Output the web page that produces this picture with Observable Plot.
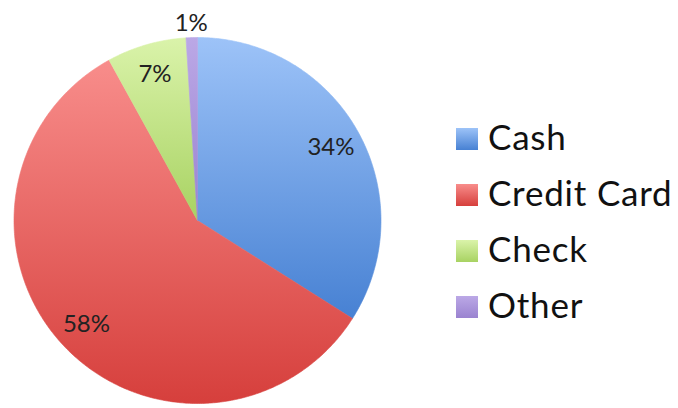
<!DOCTYPE html>
<html>
<head>
<meta charset="utf-8">
<script src="https://cdn.jsdelivr.net/npm/d3@7"></script>
<script src="https://cdn.jsdelivr.net/npm/@observablehq/plot@0.6"></script>
<style>
  body { margin: 0; background: #fff; }
  #chart { position: relative; width: 678px; height: 408px; font-family: Lato, "Open Sans", sans-serif; }
  #legend { position: absolute; left: 456px; top: 0; }
  .row { position: absolute; left: 0; display: flex; align-items: baseline; white-space: nowrap; }
  .sw { width: 22px; height: 22px; margin-right: 10px; }
  .lab { font-size: 35px; line-height: 1; letter-spacing: 0.8px; color: #111; }
</style>
</head>
<body>
<div id="chart"></div>
<script>
// Payment methods and their share of transactions (%)
const methods = ["Cash", "Credit Card", "Check", "Other"];
const shares = [34, 58, 7, 1];
const shareLabels = ["34%", "58%", "7%", "1%"];
// Two-tone gradient per slice (top, bottom)
const colorTop = ["#9dc3f8", "#f88d8b", "#daf3aa", "#bba8e6"];
const colorBottom = ["#4781d3", "#d63f3c", "#a8d262", "#9a83d0"];

const chart = document.getElementById("chart");

// Gradient definitions referenced by the slices
const defsSvg = d3.select(chart).append("svg")
  .attr("width", 0).attr("height", 0)
  .style("position", "absolute");
const defs = defsSvg.append("defs");
methods.forEach((m, i) => {
  const g = defs.append("linearGradient")
    .attr("id", "grad" + i)
    .attr("x1", 0).attr("y1", 0).attr("x2", 0).attr("y2", 1);
  g.append("stop").attr("offset", "0%").attr("stop-color", colorTop[i]);
  g.append("stop").attr("offset", "100%").attr("stop-color", colorBottom[i]);
});

// Slice angles, clockwise from 12 o'clock
const arcs = d3.pie().sort(null).value(d => d)(shares);

// Outline of each slice in unit-circle coordinates
const slicePoints = [];
arcs.forEach((a, i) => {
  slicePoints.push({method: methods[i], x: 0, y: 0});
  const steps = Math.max(2, Math.ceil((a.endAngle - a.startAngle) / 0.01));
  for (let k = 0; k <= steps; k++) {
    const t = a.startAngle + (a.endAngle - a.startAngle) * k / steps;
    slicePoints.push({method: methods[i], x: Math.sin(t), y: Math.cos(t)});
  }
  slicePoints.push({method: methods[i], x: 0, y: 0});
});

// Percentage labels: inside the slice, or just outside for tiny slices
const labelRows = arcs.map((a, i) => {
  const mid = (a.startAngle + a.endAngle) / 2;
  const r = shares[i] < 3 ? 1.08 : 0.83;
  return {method: methods[i], text: shareLabels[i], x: r * Math.sin(mid), y: r * Math.cos(mid)};
});

const plot = Plot.plot({
  width: 678,
  height: 408,
  x: {domain: [-1, 1], range: [13.5, 380.5], axis: null},
  y: {domain: [-1, 1], range: [403, 37], axis: null},
  color: {domain: methods, range: methods.map((m, i) => `url(#grad${i})`)},
  style: {fontFamily: "Lato, 'Open Sans', sans-serif", background: "transparent"},
  marks: [
    Plot.line(slicePoints, {x: "x", y: "y", z: "method", fill: "method", stroke: "method", strokeWidth: 0.6, curve: "linear"}),
    Plot.text(labelRows, {x: "x", y: "y", text: "text", fontSize: 24, fill: "#222"})
  ]
});
chart.appendChild(plot);

// Legend to the right of the pie
const legend = d3.select(chart).append("div").attr("id", "legend");
const rowTops = [119, 175, 231, 287];
methods.forEach((m, i) => {
  const row = legend.append("div").attr("class", "row").style("top", rowTops[i] + "px");
  row.append("div").attr("class", "sw")
    .style("background", `linear-gradient(to bottom, ${colorTop[i]}, ${colorBottom[i]})`);
  row.append("div").attr("class", "lab").text(m);
});
</script>
</body>
</html>
